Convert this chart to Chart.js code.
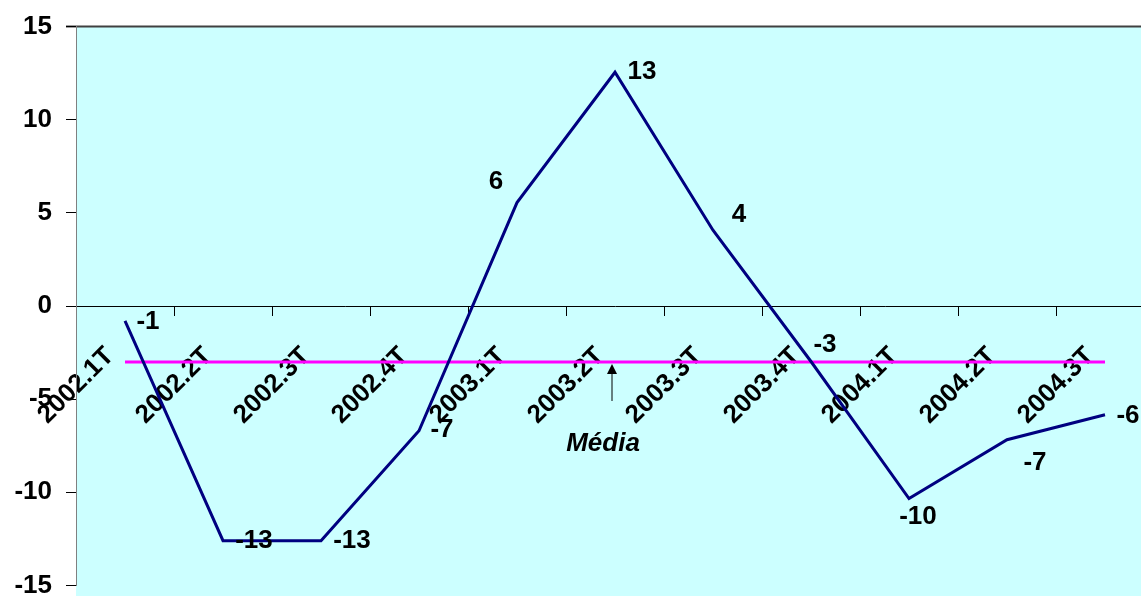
<!DOCTYPE html>
<html>
<head>
<meta charset="utf-8">
<script src="https://cdn.jsdelivr.net/npm/chart.js@4.4.0/dist/chart.umd.min.js"></script>
<style>
html, body { margin: 0; padding: 0; background: #fff; overflow: hidden; }
#wrap { width: 1154px; height: 618px; margin-top: -3px; }
</style>
</head>
<body>
<div id="wrap"><canvas id="chart"></canvas></div>
<script>
const quarters = ["2002.1T", "2002.2T", "2002.3T", "2002.4T", "2003.1T", "2003.2T", "2003.3T", "2003.4T", "2004.1T", "2004.2T", "2004.3T"]
const values = [-0.8, -12.6, -12.6, -6.7, 5.55, 12.55, 4.07, -2.98, -10.34, -7.18, -5.84]
const media = [-3, -3, -3, -3, -3, -3, -3, -3, -3, -3, -3]
const yTicks = [-15, -10, -5, 0, 5, 10, 15]
const mediaText = "Média"

// where each value label sits, relative to its point (centre of the text)
const labelShift = [[23, 1], [31, 0], [31, 0], [23, -1], [-21, -21], [27, 0], [26, -15], [14, -17], [9, 18], [28, 23], [23, 1]]

const FONT = "Liberation Sans, Arial, sans-serif"

const plotBg = {
    id: "plotBg",
    beforeDraw(chart) {
        const {ctx, chartArea} = chart
        ctx.save()
        ctx.fillStyle = "#ccffff"
        ctx.fillRect(chartArea.left, chartArea.top, chart.width - chartArea.left, chart.height - chartArea.top)
        ctx.strokeStyle = "#404040"
        ctx.lineWidth = 2
        ctx.beginPath()
        ctx.moveTo(chartArea.left - 10, chartArea.top)
        ctx.lineTo(chart.width, chartArea.top)
        ctx.stroke()
        ctx.restore()
    }
}

const valueLabels = {
    id: "valueLabels",
    afterDatasetsDraw(chart) {
        const {ctx} = chart
        const meta = chart.getDatasetMeta(0)
        ctx.save()
        ctx.font = "bold 26px " + FONT
        ctx.fillStyle = "#000"
        ctx.textAlign = "center"
        ctx.textBaseline = "middle"
        meta.data.forEach((pt, i) => {
            const s = labelShift[i]
            ctx.fillText(String(Math.round(values[i])), pt.x + s[0], pt.y + s[1])
        })
        ctx.restore()
    }
}

const mediaNote = {
    id: "mediaNote",
    afterDraw(chart) {
        const {ctx} = chart
        const xs = chart.scales.x
        const ys = chart.scales.y
        const x = xs.getPixelForValue(5) - 3
        const yTop = ys.getPixelForValue(media[5]) + 2
        const yBot = ys.getPixelForValue(-5.1)
        ctx.save()
        ctx.strokeStyle = "#000"
        ctx.fillStyle = "#000"
        ctx.lineWidth = 1
        ctx.beginPath()
        ctx.moveTo(x, yBot)
        ctx.lineTo(x, yTop + 8)
        ctx.stroke()
        ctx.beginPath()
        ctx.moveTo(x, yTop)
        ctx.lineTo(x - 5, yTop + 10)
        ctx.lineTo(x + 5, yTop + 10)
        ctx.closePath()
        ctx.fill()
        ctx.font = "italic bold 26px " + FONT
        ctx.textAlign = "center"
        ctx.textBaseline = "middle"
        ctx.fillText(mediaText, x - 9, ys.getPixelForValue(-7.4))
        ctx.restore()
    }
}

new Chart("chart", {
    type: "line",
    data: {
        labels: quarters,
        datasets: [{
            data: values,
            borderColor: "#000080",
            borderWidth: 3,
            pointRadius: 0,
            tension: 0,
            fill: false
        }, {
            data: media,
            borderColor: "#ff00ff",
            borderWidth: 3,
            pointRadius: 0,
            fill: false
        }]
    },
    options: {
        responsive: true,
        maintainAspectRatio: false,
        animation: false,
        layout: {padding: 0},
        plugins: {
            legend: {display: false},
            tooltip: {enabled: false}
        },
        scales: {
            x: {
                position: {y: 0},
                offset: true,
                grid: {offset: true, drawOnChartArea: false, tickLength: 9, color: "#000"},
                border: {display: true, color: "#000", width: 1},
                ticks: {
                    minRotation: 45,
                    maxRotation: 45,
                    autoSkip: false,
                    padding: 26,
                    labelOffset: -15,
                    color: "#000",
                    font: {family: FONT, size: 26, weight: "bold"}
                }
            },
            y: {
                min: -15,
                max: 15,
                afterFit(scale) { scale.width = 76 },
                afterBuildTicks(scale) { scale.ticks = yTicks.map(v => ({value: v})) },
                grid: {drawOnChartArea: false, tickLength: 10, color: "#000"},
                border: {display: true, color: "#808080", width: 1},
                ticks: {
                    padding: 14,
                    color: "#000",
                    font: {family: FONT, size: 26, weight: "bold"}
                }
            }
        }
    },
    plugins: [plotBg, valueLabels, mediaNote]
})
</script>
</body>
</html>
